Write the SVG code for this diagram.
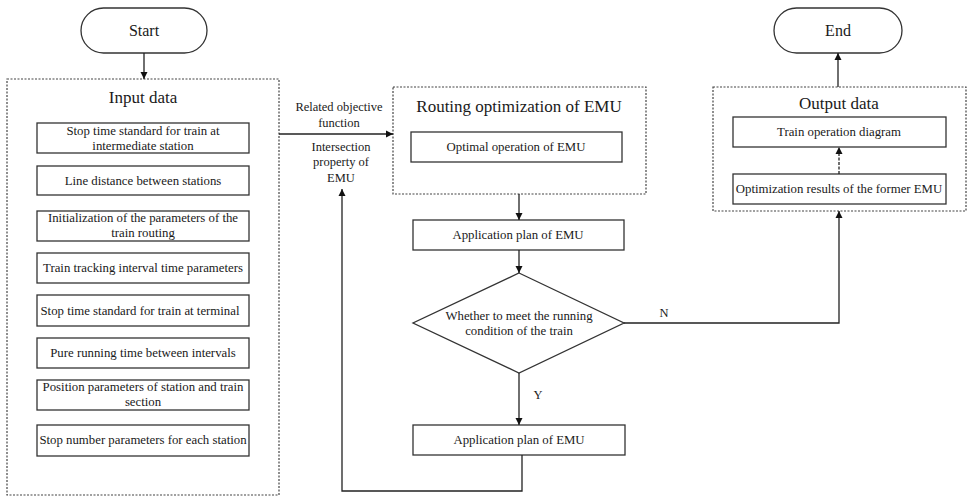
<svg xmlns="http://www.w3.org/2000/svg" width="971" height="498" viewBox="0 0 971 498">
<style>
text{font-family:"Liberation Serif","Times New Roman",serif;fill:#1a1a1a;text-anchor:middle}
.t{font-size:12.8px}
.l{font-size:12.5px}
.h{font-size:17px}
.p{font-size:16px}
.box{fill:#fff;stroke:#333;stroke-width:1.3}
.dash{fill:#fff;stroke:#444;stroke-width:1.2;stroke-dasharray:2,1.5}
.ln{fill:none;stroke:#222;stroke-width:1.3}
</style>
<defs>
<marker id="ar" viewBox="0 0 10 10" refX="10" refY="5" markerWidth="7" markerHeight="9" orient="auto" markerUnits="userSpaceOnUse">
<path d="M0,0 L10,5 L0,10 z" fill="#111"/>
</marker>
</defs>
<rect width="971" height="498" fill="#fff"/>

<g id="start"><rect x="81" y="8" width="126" height="45" rx="22.5" class="box"/><text class="p" x="144" y="36">Start</text></g>

<g id="input">
<rect x="7" y="79" width="272" height="416" class="dash"/>
<text class="h" x="143" y="103">Input data</text>
<rect x="37" y="123" width="212" height="30" class="box"/><text class="t" x="143" y="135">Stop time standard for train at</text><text class="t" x="143" y="150">intermediate station</text>
<rect x="37" y="166" width="212" height="29" class="box"/><text class="t" x="143" y="185">Line distance between stations</text>
<rect x="37" y="211" width="212" height="30" class="box"/><text class="t" x="143" y="222">Initialization of the parameters of the</text><text class="t" x="143" y="237">train routing</text>
<rect x="37" y="253" width="212" height="30" class="box"/><text class="t" x="143" y="272">Train tracking interval time parameters</text>
<rect x="37" y="295" width="212" height="31" class="box"/><text class="t" x="140" y="315">Stop time standard for train at terminal</text>
<rect x="37" y="338" width="212" height="30" class="box"/><text class="t" x="143" y="357">Pure running time between intervals</text>
<rect x="37" y="380" width="212" height="30" class="box"/><text class="t" x="143" y="391">Position parameters of station and train</text><text class="t" x="143" y="406">section</text>
<rect x="37" y="425" width="212" height="31" class="box"/><text class="t" x="143" y="444">Stop number parameters for each station</text>
</g>

<g id="routing">
<rect x="393" y="87" width="253" height="107" class="dash"/>
<text class="h" x="519" y="112">Routing optimization of EMU</text>
<rect x="411" y="132" width="211" height="30" class="box"/><text class="t" x="516" y="151">Optimal operation of EMU</text>
</g>

<g id="plan1"><rect x="413" y="220" width="211" height="30" class="box"/><text class="t" x="518" y="239">Application plan of EMU</text></g>

<g id="decision"><polygon points="519,273 624,323 519,373 413,323" class="box"/><text class="t" x="519" y="320">Whether to meet the running</text><text class="t" x="519" y="335">condition of the train</text></g>

<g id="plan2"><rect x="413" y="425" width="212" height="30" class="box"/><text class="t" x="519" y="444">Application plan of EMU</text></g>

<g id="output">
<rect x="713" y="87" width="253" height="124" class="dash"/>
<text class="h" x="839" y="109">Output data</text>
<rect x="733" y="117" width="213" height="30" class="box"/><text class="t" x="839" y="136">Train operation diagram</text>
<rect x="733" y="174" width="213" height="30" class="box"/><text class="t" x="839" y="193">Optimization results of the former EMU</text>
</g>

<g id="end"><rect x="774" y="8" width="128" height="45" rx="22.5" class="box"/><text class="p" x="838" y="36">End</text></g>

<g id="connectors">
<line x1="144" y1="53" x2="144" y2="79" class="ln" marker-end="url(#ar)"/>
<line x1="279" y1="134" x2="393" y2="134" class="ln" marker-end="url(#ar)"/>
<line x1="519" y1="194" x2="519" y2="220" class="ln" marker-end="url(#ar)"/>
<line x1="519" y1="250" x2="519" y2="273" class="ln" marker-end="url(#ar)"/>
<line x1="519" y1="373" x2="519" y2="425" class="ln" marker-end="url(#ar)"/>
<polyline points="522,455 522,491 342,491 342,189" class="ln" marker-end="url(#ar)"/>
<polyline points="624,323 839,323 839,211" class="ln" marker-end="url(#ar)"/>
<line x1="839" y1="174" x2="839" y2="147" class="ln" stroke-dasharray="3,1.5" marker-end="url(#ar)"/>
<line x1="838" y1="87" x2="838" y2="53" class="ln" marker-end="url(#ar)"/>
<text class="l" x="339" y="111">Related objective</text>
<text class="l" x="339" y="127">function</text>
<text class="l" x="341" y="151">Intersection</text>
<text class="l" x="341" y="166">property of</text>
<text class="l" x="341" y="182">EMU</text>
<text class="l" x="664" y="317">N</text>
<text class="l" x="538" y="399">Y</text>
</g>
</svg>
